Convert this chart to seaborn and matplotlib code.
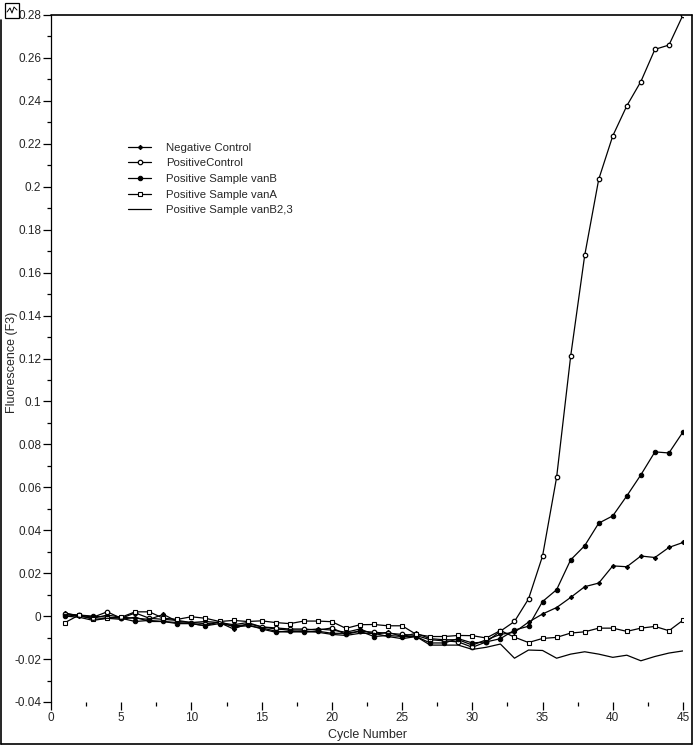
import numpy as np
import pandas as pd
import seaborn as sns
import matplotlib.pyplot as plt
from matplotlib.lines import Line2D
from matplotlib.patches import Rectangle
from matplotlib.ticker import MultipleLocator, FuncFormatter

sns.set_style("ticks")
plt.rcParams['font.family'] = ['Liberation Sans Narrow', 'Liberation Sans', 'DejaVu Sans']

cycles = list(range(1, 46))

positive_control = [0.001, 0.0005, -0.0005, 0.002, -0.001, 0.0015, -0.001, -0.0015, -0.002, -0.003,
                    -0.0035, -0.003, -0.004, -0.003, -0.005, -0.0055, -0.006, -0.006, -0.0065, -0.0055,
                    -0.0085, -0.007, -0.0075, -0.008, -0.0085, -0.009, -0.011, -0.0115, -0.012, -0.0145,
                    -0.012, -0.007, -0.0025, 0.008, 0.028, 0.0646, 0.121, 0.168, 0.2035, 0.2237,
                    0.2377, 0.249, 0.264, 0.266, 0.280]
sample_vanB = [0.0, 0.0005, 0.0, -0.0005, -0.001, -0.0025, -0.002, -0.0025, -0.0035, -0.0035,
               -0.0045, -0.0035, -0.0045, -0.004, -0.006, -0.0075, -0.007, -0.0075, -0.007, -0.008,
               -0.008, -0.007, -0.0095, -0.009, -0.0095, -0.0095, -0.0125, -0.0125, -0.0105, -0.0125,
               -0.012, -0.0105, -0.0065, -0.0047, 0.0068, 0.0123, 0.0262, 0.0328, 0.0433, 0.0467,
               0.056, 0.0658, 0.0765, 0.076, 0.0858]
negative_control = [0.0015, 0.0, -0.001, 0.0005, -0.0005, -0.001, -0.0015, 0.0008, -0.0025, -0.003,
                    -0.0025, -0.003, -0.006, -0.0035, -0.005, -0.006, -0.0065, -0.0065, -0.006, -0.0065,
                    -0.0075, -0.006, -0.0085, -0.0075, -0.0095, -0.008, -0.0105, -0.011, -0.011, -0.0135,
                    -0.011, -0.0085, -0.0075, -0.0028, 0.001, 0.004, 0.0087, 0.0137, 0.0154, 0.0234,
                    0.023, 0.028, 0.0273, 0.032, 0.0343]
sample_vanA = [-0.003, 0.0005, -0.0015, -0.001, -0.0005, 0.002, 0.002, -0.001, -0.0015, -0.0003,
               -0.001, -0.0025, -0.002, -0.0025, -0.0022, -0.003, -0.0035, -0.0023, -0.0023, -0.0026,
               -0.0057, -0.004, -0.0039, -0.0045, -0.0045, -0.0085, -0.0095, -0.0095, -0.009, -0.0091,
               -0.0102, -0.0067, -0.0098, -0.0123, -0.0104, -0.0099, -0.0079, -0.0073, -0.0056, -0.0056,
               -0.0071, -0.0056, -0.0048, -0.0068, -0.0019]
sample_vanB23 = [0.0, -0.0005, -0.002, -0.001, -0.0015, -0.0005, -0.0025, -0.0025, -0.003, -0.0035,
                 -0.0045, -0.0025, -0.005, -0.0045, -0.0055, -0.007, -0.0075, -0.007, -0.0075, -0.0085,
                 -0.009, -0.008, -0.008, -0.0095, -0.0105, -0.0095, -0.0135, -0.0135, -0.0135, -0.0155,
                 -0.0145, -0.013, -0.0196, -0.0158, -0.016, -0.0196, -0.0177, -0.0166, -0.0177, -0.0192,
                 -0.0182, -0.0208, -0.0188, -0.0172, -0.0162]

series_names = ["Negative Control", "PositiveControl", "Positive Sample vanB",
                "Positive Sample vanA", "Positive Sample vanB2,3"]
series_values = [negative_control, positive_control, sample_vanB, sample_vanA, sample_vanB23]

df = pd.DataFrame({
    'cycle': cycles * len(series_names),
    'value': sum(series_values, []),
    'series': np.repeat(series_names, len(cycles)),
})

# marker styles per series, as they look on the scan
styles = {
    "Negative Control": dict(marker='D', markersize=2.2, markerfacecolor='black'),
    "PositiveControl": dict(marker='o', markersize=3.2, markerfacecolor='white', markeredgewidth=0.9),
    "Positive Sample vanB": dict(marker='o', markersize=3.2, markerfacecolor='black'),
    "Positive Sample vanA": dict(marker='s', markersize=3.2, markerfacecolor='white', markeredgewidth=0.8),
    "Positive Sample vanB2,3": dict(marker=None),
}

fig = plt.figure(figsize=(6.95, 7.48), dpi=100)
ax = fig.add_axes([51 / 695, 46 / 748, 632 / 695, 687 / 748])

for name in series_names:
    sub = df[df['series'] == name]
    sns.lineplot(data=sub, x='cycle', y='value', ax=ax, color='black', linewidth=0.9,
                 markeredgecolor='black', label=name, **styles[name])

ax.set_xlim(0, 45)
ax.set_ylim(-0.04, 0.28)
ax.xaxis.set_major_locator(MultipleLocator(5))
ax.xaxis.set_minor_locator(MultipleLocator(2.5))
ax.yaxis.set_major_locator(MultipleLocator(0.02))
ax.yaxis.set_minor_locator(MultipleLocator(0.01))
ax.yaxis.set_major_formatter(FuncFormatter(lambda v, p: "%g" % round(v, 3)))
ax.tick_params(axis='both', which='major', length=6, width=0.9, color='black', labelsize=8.5, pad=1)
ax.tick_params(axis='both', which='minor', length=3, width=0.9, color='black')
ax.tick_params(axis='x', pad=1)

for s in ['top', 'right', 'bottom']:
    ax.spines[s].set_visible(False)
ax.spines['left'].set_color('black')
ax.spines['left'].set_linewidth(0.9)

ax.set_xlabel("Cycle Number", fontsize=9, labelpad=4)
ax.set_ylabel("Fluorescence (F3)", fontsize=9)
ax.yaxis.label.set_va('center')
ax.yaxis.set_label_coords(-0.061, 0.495)

leg = ax.legend(loc='upper left', bbox_to_anchor=(0.11, 0.826), frameon=False, fontsize=8.2,
                handlelength=2.0, handletextpad=1.3, labelspacing=0.5, borderpad=0.2)

# outer frame of the instrument window
W, H = 695, 748
def px(x, y):
    return x / W, 1 - y / H
frame = [((51, 15), (692, 15)), ((692, 15), (692, 744)), ((1, 744), (692, 744)), ((1, 20), (1, 744))]
for (a, b) in frame:
    (x0, y0), (x1, y1) = px(*a), px(*b)
    fig.add_artist(Line2D([x0, x1], [y0, y1], color='black', linewidth=1.2))
ix, iy = px(5, 18)
fig.add_artist(Rectangle((ix, iy), 14 / W, 15 / H, fill=False, edgecolor='black', linewidth=0.9))
fig.add_artist(Line2D([px(7, 0)[0], px(10, 0)[0], px(12, 0)[0], px(14, 0)[0], px(17, 0)[0]],
                      [px(0, 12)[1], px(0, 8)[1], px(0, 13)[1], px(0, 7)[1], px(0, 10)[1]],
                      color='black', linewidth=0.7))

fig.savefig('out.png', dpi=100, facecolor='white')
